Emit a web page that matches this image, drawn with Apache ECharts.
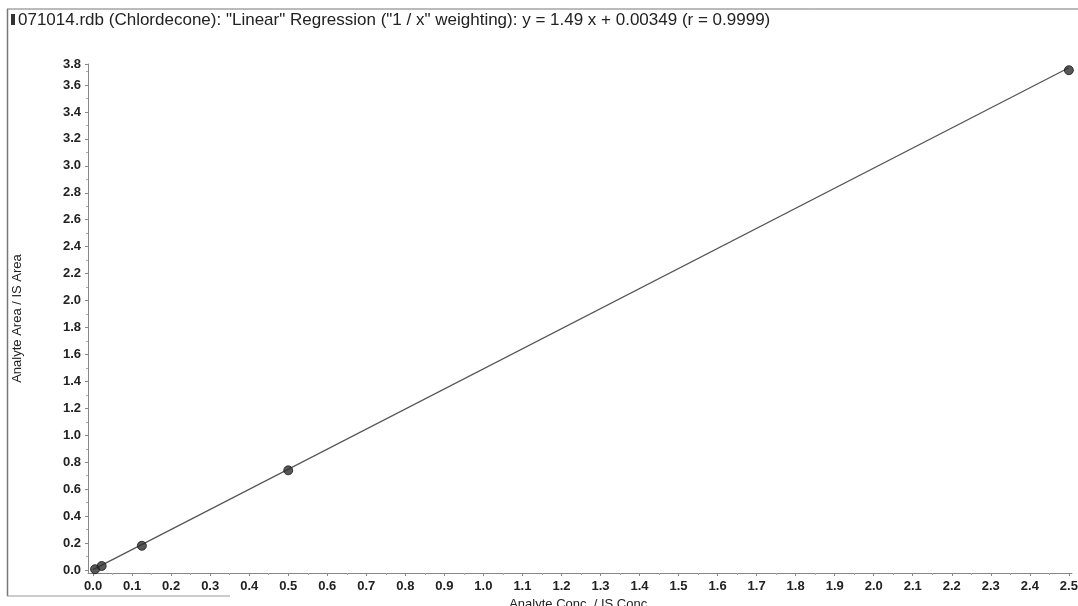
<!DOCTYPE html>
<html><head><meta charset="utf-8">
<script src="https://cdn.jsdelivr.net/npm/echarts@6/dist/echarts.min.js"></script>
<style>html,body{margin:0;padding:0;background:#fff}#c{width:1078px;height:606px}</style>
</head><body><div id="c"></div>
<script>
const titleText = '071014.rdb (Chlordecone): "Linear" Regression ("1 / x" weighting): y = 1.49 x + 0.00349 (r = 0.9999)';
const xName = 'Analyte Conc. / IS Conc.';
const yName = 'Analyte Area / IS Area';
const calX = [0.005, 0.022, 0.125, 0.5, 2.5];
const calY = [0.006, 0.030, 0.180, 0.740, 3.71];
const fitX = [0, 2.5];
const fitY = [0.00349, 3.72849];
const xTicks = [0.0,0.1,0.2,0.3,0.4,0.5,0.6,0.7,0.8,0.9,1.0,1.1,1.2,1.3,1.4,1.5,1.6,1.7,1.8,1.9,2.0,2.1,2.2,2.3,2.4,2.5];
const xMinorTicks = [0.05,0.15,0.25,0.35,0.45,0.55,0.65,0.75,0.85,0.95,1.05,1.15,1.25,1.35,1.45,1.55,1.65,1.75,1.85,1.95,2.05,2.15,2.25,2.35,2.45];
const yTicks = [0.0,0.2,0.4,0.6,0.8,1.0,1.2,1.4,1.6,1.8,2.0,2.2,2.4,2.6,2.8,3.0,3.2,3.4,3.6,3.756];
const yMinorTicks = [0.1,0.3,0.5,0.7,0.9,1.1,1.3,1.5,1.7,1.9,2.1,2.3,2.5,2.7,2.9,3.1,3.3,3.5,3.7];
const xMin = -0.013, xMax = 2.508;
const yMin = -0.022, yMax = 3.756;

const FONT = '"Liberation Sans", Arial, sans-serif';
const chart = echarts.init(document.getElementById('c'));
const labelStyle = {color: '#222', fontFamily: FONT, fontSize: 13, fontWeight: 'bold',
  formatter: v => v.toFixed(1)};
chart.setOption({
  animation: false,
  backgroundColor: '#fff',
  grid: {left: 88, right: 6, top: 64, bottom: 33, containLabel: false, outerBoundsMode: 'none'},
  xAxis: [{
    type: 'value', min: xMin, max: xMax,
    axisLine: {show: true, onZero: false, lineStyle: {color: '#888', width: 1}},
    axisTick: {show: true, length: 3, customValues: xTicks, lineStyle: {color: '#888'}},
    splitLine: {show: false},
    axisLabel: Object.assign({}, labelStyle, {margin: 7, customValues: xTicks}),
    name: xName, nameLocation: 'middle', nameGap: 23,
    nameTextStyle: {color: '#222', fontFamily: FONT, fontSize: 13}
  }, {
    type: 'value', min: xMin, max: xMax, position: 'bottom',
    axisLine: {show: false, onZero: false},
    axisTick: {show: true, length: 2, customValues: xMinorTicks, lineStyle: {color: '#aaa'}},
    axisLabel: {show: false}, splitLine: {show: false}
  }],
  yAxis: [{
    type: 'value', min: yMin, max: yMax,
    axisLine: {show: true, onZero: false, lineStyle: {color: '#888', width: 1}},
    axisTick: {show: true, length: 3, customValues: yTicks, lineStyle: {color: '#888'}},
    splitLine: {show: false},
    axisLabel: Object.assign({}, labelStyle, {margin: 7, customValues: yTicks}),
    name: yName, nameLocation: 'middle', nameGap: 64,
    nameTextStyle: {color: '#222', fontFamily: FONT, fontSize: 13}
  }, {
    type: 'value', min: yMin, max: yMax, position: 'left',
    axisLine: {show: false, onZero: false},
    axisTick: {show: true, length: 2, customValues: yMinorTicks, lineStyle: {color: '#aaa'}},
    axisLabel: {show: false}, splitLine: {show: false}
  }],
  series: [
    {type: 'line', data: fitX.map((x, i) => [x, fitY[i]]), showSymbol: false, symbol: 'none',
     lineStyle: {color: '#555', width: 1.3}, z: 2, silent: true},
    {type: 'scatter', data: calX.map((x, i) => [x, calY[i]]), symbol: 'circle', symbolSize: 9,
     itemStyle: {color: '#2e2e2e', borderColor: '#1a1a1a', borderWidth: 1}, z: 3}
  ],
  graphic: [
    {type: 'line', shape: {x1: 7, y1: 9, x2: 1078, y2: 9}, style: {stroke: '#777', lineWidth: 1}},
    {type: 'line', shape: {x1: 7.5, y1: 9, x2: 7.5, y2: 596}, style: {stroke: '#777', lineWidth: 1.5}},
    {type: 'line', shape: {x1: 7, y1: 596, x2: 230, y2: 596}, style: {stroke: '#999', lineWidth: 1}},
    {type: 'rect', shape: {x: 11, y: 14, width: 4, height: 11}, style: {fill: '#333'}},
    {type: 'text', left: 18, top: 12, style: {text: titleText, fill: '#222', font: '17px ' + FONT}}
  ]
});
</script></body></html>
